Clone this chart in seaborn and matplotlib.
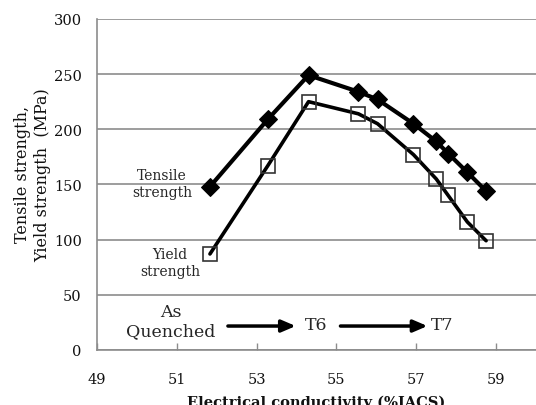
import matplotlib

matplotlib.use("Agg")

import matplotlib.pyplot as plt
import seaborn as sns

conductivity = [51.83, 53.28, 54.3, 55.55, 56.03, 56.93, 57.5, 57.8, 58.28, 58.75]
tensile = [148, 209, 249, 234, 227, 205, 189, 178, 161, 144]
yield_strength = [87, 167, 225, 214, 205, 177, 155, 140, 116, 99]

x_ticks = [49, 51, 53, 55, 57, 59]
y_ticks = [0, 50, 100, 150, 200, 250, 300]

sns.set_theme(style="white")
plt.rcParams["font.family"] = ["DejaVu Serif"]

figure = plt.figure(figsize=(5.36, 4.06), dpi=100)
axis = figure.add_axes([0.181, 0.1355, 0.819, 0.8155])

sns.lineplot(
    x=conductivity,
    y=tensile,
    marker="D",
    markersize=9,
    markerfacecolor="black",
    markeredgecolor="black",
    linewidth=3,
    color="black",
    ax=axis,
)
sns.lineplot(
    x=conductivity,
    y=yield_strength,
    marker="s",
    markersize=10,
    markerfacecolor="none",
    markeredgecolor="#333333",
    markeredgewidth=1.2,
    linewidth=2.6,
    color="black",
    ax=axis,
)
for line in axis.lines:
    line.set_zorder(3)

axis.set_xlim(49, 60)
axis.set_ylim(0, 300)
axis.set_xticks(x_ticks)
axis.set_yticks(y_ticks)
axis.yaxis.grid(True, color="#8c8c8c", linewidth=1.2)
axis.set_axisbelow(True)

for side in ("top", "right"):
    axis.spines[side].set_visible(False)
for side in ("left", "bottom"):
    axis.spines[side].set_color("#8c8c8c")
    axis.spines[side].set_linewidth(1.2)

axis.tick_params(axis="x", direction="in", length=5, width=1, color="#8c8c8c",
                 pad=16, labelsize=10.5, bottom=True, labelcolor="#111111")
axis.tick_params(axis="y", length=0, pad=11, labelsize=10.5, labelcolor="#111111")

axis.set_xlabel("Electrical conductivity (%IACS)", fontsize=10.5,
                fontweight="bold", labelpad=6, color="#111111")
axis.set_ylabel("Tensile strength,\nYield strength  (MPa)", fontsize=11.5,
                color="#111111")
axis.yaxis.set_label_coords(-0.105, 0.532)

axis.text(50.63, 151, "Tensile\nstrength", ha="center", va="center",
          fontsize=10, linespacing=1.25)
axis.text(50.83, 79, "Yield\nstrength", ha="center", va="center",
          fontsize=10, linespacing=1.25)
axis.text(50.85, 26.5, "As\nQuenched", ha="center", va="center",
          fontsize=12.5, linespacing=1.15)
axis.text(54.48, 23.5, "T6", ha="center", va="center", fontsize=12.5)
axis.text(57.65, 23.5, "T7", ha="center", va="center", fontsize=12.5)
arrow_style = dict(arrowstyle="-|>,head_length=0.7,head_width=0.3",
                   color="black", linewidth=2.5,
                   mutation_scale=12, shrinkA=0, shrinkB=0)
axis.annotate("", xy=(53.98, 21.7), xytext=(52.28, 21.7), arrowprops=arrow_style)
axis.annotate("", xy=(57.28, 21.7), xytext=(55.1, 21.7), arrowprops=arrow_style)

figure.savefig("out.png", dpi=100)
plt.close(figure)
